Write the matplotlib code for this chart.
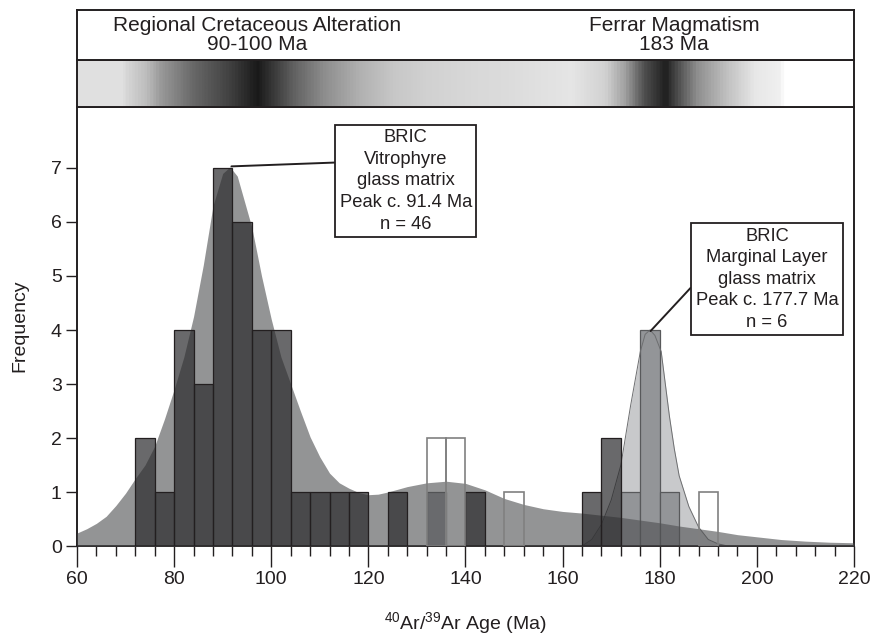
import matplotlib
matplotlib.use("Agg")
import matplotlib.pyplot as plt
import numpy as np
from matplotlib.colors import LinearSegmentedColormap

plt.rcParams["font.family"] = ["Liberation Sans", "DejaVu Sans"]
plt.rcParams["mathtext.default"] = "regular"

INK = "#231f20"

# histogram bins (left edges, 4 Ma wide) and counts
vitro_left = [72, 76, 80, 84, 88, 92, 96, 100, 104, 108, 112, 116, 124, 140, 164, 168]
vitro_count = [2, 1, 4, 3, 7, 6, 4, 4, 1, 1, 1, 1, 1, 1, 1, 2]
margin_left = [132, 172, 176, 180]
margin_count = [1, 1, 4, 1]
open_left = [132, 136, 148, 188]
open_count = [2, 2, 1, 1]
bin_width = 4

# probability density curves (scaled to frequency)
vitro_age = [60, 62, 64, 66, 68, 70, 72, 74, 76, 78, 80, 82, 84, 86, 88, 90, 91.5, 93,
             96, 98, 100, 102, 104, 106, 108, 110, 112, 114, 116, 118, 120, 122, 124,
             126, 128, 132, 136, 140, 144, 148, 152, 156, 160, 164, 168, 172, 176, 180,
             184, 188, 192, 196, 200, 205, 210, 215, 220]
vitro_pdf = [0.24, 0.32, 0.42, 0.55, 0.75, 0.98, 1.25, 1.5, 1.85, 2.35, 2.9, 3.5, 4.25,
             5.2, 6.3, 6.9, 7.02, 6.85, 5.9, 5.0, 4.2, 3.5, 3.0, 2.5, 2.02, 1.65, 1.35,
             1.17, 1.07, 0.99, 0.95, 0.96, 1.0, 1.05, 1.1, 1.17, 1.2, 1.16, 1.04, 0.88,
             0.77, 0.69, 0.64, 0.61, 0.57, 0.53, 0.48, 0.43, 0.37, 0.32, 0.27, 0.21,
             0.17, 0.12, 0.09, 0.07, 0.06]
margin_age = [164, 166, 168, 170, 172, 174, 176, 177, 178, 179, 180.3, 182, 183, 184,
              186, 188, 190, 192, 194]
margin_pdf = [0.0, 0.12, 0.4, 0.85, 1.5, 2.6, 3.6, 3.92, 4.0, 3.9, 3.6, 2.4, 1.8, 1.3,
              0.73, 0.35, 0.12, 0.04, 0.0]

# banner shading stops (age, grey level)
band_age = [60, 69, 70, 74, 77, 84, 91, 97, 104.5, 111, 118, 125, 132, 142, 148, 162,
            169, 173, 177, 181.5, 184, 188, 194, 200, 205, 206, 220]
band_grey = [0.88, 0.88, 0.84, 0.74, 0.6, 0.4, 0.26, 0.1, 0.38, 0.56, 0.69, 0.78, 0.82,
             0.85, 0.86, 0.9, 0.82, 0.63, 0.31, 0.12, 0.31, 0.56, 0.75, 0.91, 0.94, 1.0, 1.0]

fig = plt.figure(figsize=(8.74, 6.36), dpi=100)
ax = fig.add_axes([0.0881, 0.1415, 0.889, 0.6903])
ax_band = fig.add_axes([0.0881, 0.8318, 0.889, 0.0739])
ax_txt = fig.add_axes([0.0881, 0.9057, 0.889, 0.0786])

# --- banner ---
pos = [(a - 60) / 160 for a in band_age]
cmap = LinearSegmentedColormap.from_list("band", list(zip(pos, [(g, g, g) for g in band_grey])))
ramp = np.linspace(60, 220, 1200)[None, :]
ax_band.imshow(ramp, cmap=cmap, vmin=60, vmax=220, extent=[60, 220, 0, 1], aspect="auto")
for a in (ax_band, ax_txt):
    a.set_xlim(60, 220)
    a.set_ylim(0, 1)
    a.set_xticks([])
    a.set_yticks([])
    for s in a.spines.values():
        s.set_linewidth(1.4)
        s.set_color(INK)

ax_txt.text(97, 0.69, "Regional Cretaceous Alteration", ha="center", va="center",
            fontsize=15, color=INK)
ax_txt.text(97, 0.3, "90-100 Ma", ha="center", va="center", fontsize=15, color=INK)
ax_txt.text(183, 0.69, "Ferrar Magmatism", ha="center", va="center", fontsize=15, color=INK)
ax_txt.text(183, 0.3, "183 Ma", ha="center", va="center", fontsize=15, color=INK)

# --- main panel ---
ax.fill_between(margin_age, 0, margin_pdf, color="#c8c9cb", lw=0, zorder=1)
ax.bar(margin_left, margin_count, width=bin_width, align="edge", color="#939598",
       edgecolor="#58595b", linewidth=0.9, zorder=2)
ax.plot(margin_age, margin_pdf, color="#6d6e70", lw=0.7, zorder=2.5)
ax.fill_between(vitro_age, 0, vitro_pdf, color=(79 / 255, 80 / 255, 82 / 255),
                alpha=0.61, lw=0, zorder=3)
ax.bar(vitro_left, vitro_count, width=bin_width, align="edge",
       color=(42 / 255, 42 / 255, 44 / 255, 0.7), edgecolor=INK, linewidth=0.9, zorder=4)
ax.bar(open_left, open_count, width=bin_width, align="edge", facecolor="none",
       edgecolor="#808080", linewidth=1.2, zorder=5)

ax.set_xlim(60, 220)
ax.set_ylim(0, 8.13)
ax.set_xticks(np.arange(60, 221, 20))
ax.set_xticks(np.arange(60, 221, 4), minor=True)
ax.set_yticks(range(0, 8))
ax.tick_params(axis="x", which="major", direction="out", length=15, width=1,
               labelsize=14, pad=3, colors=INK)
ax.tick_params(axis="x", which="minor", direction="out", length=7, width=1, colors=INK)
ax.tick_params(axis="y", which="major", direction="out", length=8, width=1,
               labelsize=14, pad=3, colors=INK)
for s in ax.spines.values():
    s.set_linewidth(1.4)
    s.set_color(INK)

box = dict(boxstyle="square,pad=0.25", facecolor="white", edgecolor=INK, linewidth=1.3)
ax.annotate("BRIC\nVitrophyre\nglass matrix\nPeak c. 91.4 Ma\nn = 46",
            xy=(91.8, 7.03), xytext=(127.7, 6.76), ha="center", va="center",
            fontsize=13.2, color=INK, linespacing=1.35, bbox=box, zorder=6,
            arrowprops=dict(arrowstyle="-", color=INK, lw=1.4, relpos=(0, 0.68),
                            shrinkA=0, shrinkB=0))
ax.annotate("BRIC\nMarginal Layer\nglass matrix\nPeak c. 177.7 Ma\nn = 6",
            xy=(178.1, 3.98), xytext=(202.1, 4.94), ha="center", va="center",
            fontsize=13.2, color=INK, linespacing=1.35, bbox=box, zorder=6,
            arrowprops=dict(arrowstyle="-", color=INK, lw=1.4, relpos=(0, 0.47),
                            shrinkA=0, shrinkB=0))

fig.text(20 / 874, 1 - 326 / 636, "Frequency", rotation=90, ha="center", va="center",
         fontsize=14, color=INK)
fig.text(465 / 874, 1 - 623 / 636, r"$^{40}$Ar/$^{39}$Ar Age (Ma)", ha="center",
         va="center", fontsize=14, color=INK)

fig.savefig("out.png", dpi=100)
